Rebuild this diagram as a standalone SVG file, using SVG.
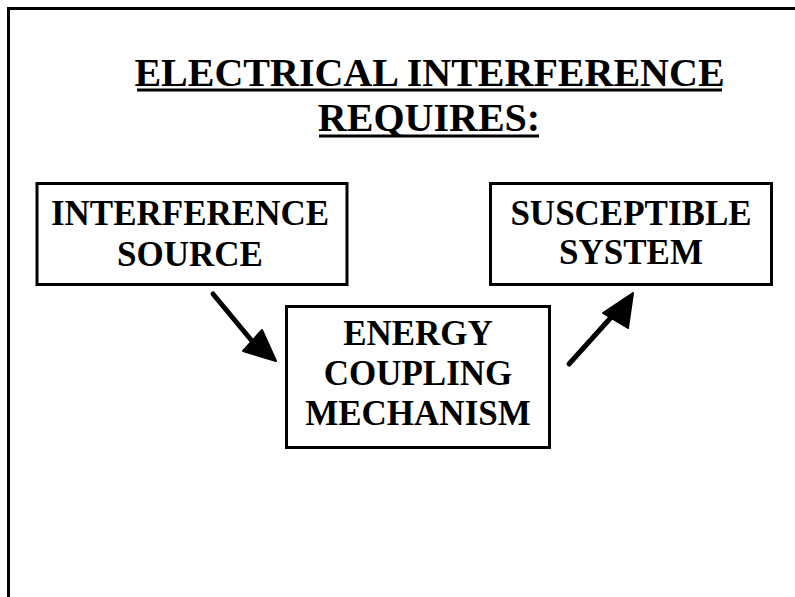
<svg xmlns="http://www.w3.org/2000/svg" width="795" height="597" viewBox="0 0 795 597">
<style>
.t{font-family:"Liberation Serif","Times New Roman",serif;font-weight:bold;fill:#000;text-anchor:middle}
.ttl{font-size:40px}
.lbl{font-size:35px}
.box{fill:#fff;stroke:#000;stroke-width:3}
.ul{stroke:#000;stroke-width:3}
.arr{stroke:#000;stroke-width:5;stroke-linecap:round;fill:none}
.head{fill:#000;stroke:#000;stroke-width:2;stroke-linejoin:round}
</style>
<rect width="795" height="597" fill="#fff"/>
<path d="M8.5 597 V8.5 H800" fill="none" stroke="#000" stroke-width="3"/>
<g id="title">
<text class="t ttl" x="429.5" y="86">ELECTRICAL INTERFERENCE</text>
<line class="ul" x1="137" y1="90" x2="722" y2="90"/>
<text class="t ttl" x="429" y="131">REQUIRES:</text>
<line class="ul" x1="319" y1="136" x2="539" y2="136"/>
</g>
<g id="source">
<rect class="box" x="37" y="183.5" width="310" height="101"/>
<text class="t lbl" x="190" y="225">INTERFERENCE</text>
<text class="t lbl" x="190" y="266">SOURCE</text>
</g>
<g id="susceptible">
<rect class="box" x="490.5" y="183.5" width="281" height="101"/>
<text class="t lbl" x="631" y="224.5">SUSCEPTIBLE</text>
<text class="t lbl" x="631" y="264">SYSTEM</text>
</g>
<g id="coupling">
<rect class="box" x="286.5" y="306.5" width="263" height="141"/>
<text class="t lbl" x="418" y="345">ENERGY</text>
<text class="t lbl" x="418" y="385">COUPLING</text>
<text class="t lbl" x="418" y="425">MECHANISM</text>
</g>
<g id="connectors">
<line class="arr" x1="213" y1="294" x2="252" y2="341"/>
<polygon class="head" points="276,361 243,351 262,330"/>
<line class="arr" x1="569" y1="364" x2="615" y2="313"/>
<polygon class="head" points="633,293 603,313 628,328"/>
</g>
</svg>
